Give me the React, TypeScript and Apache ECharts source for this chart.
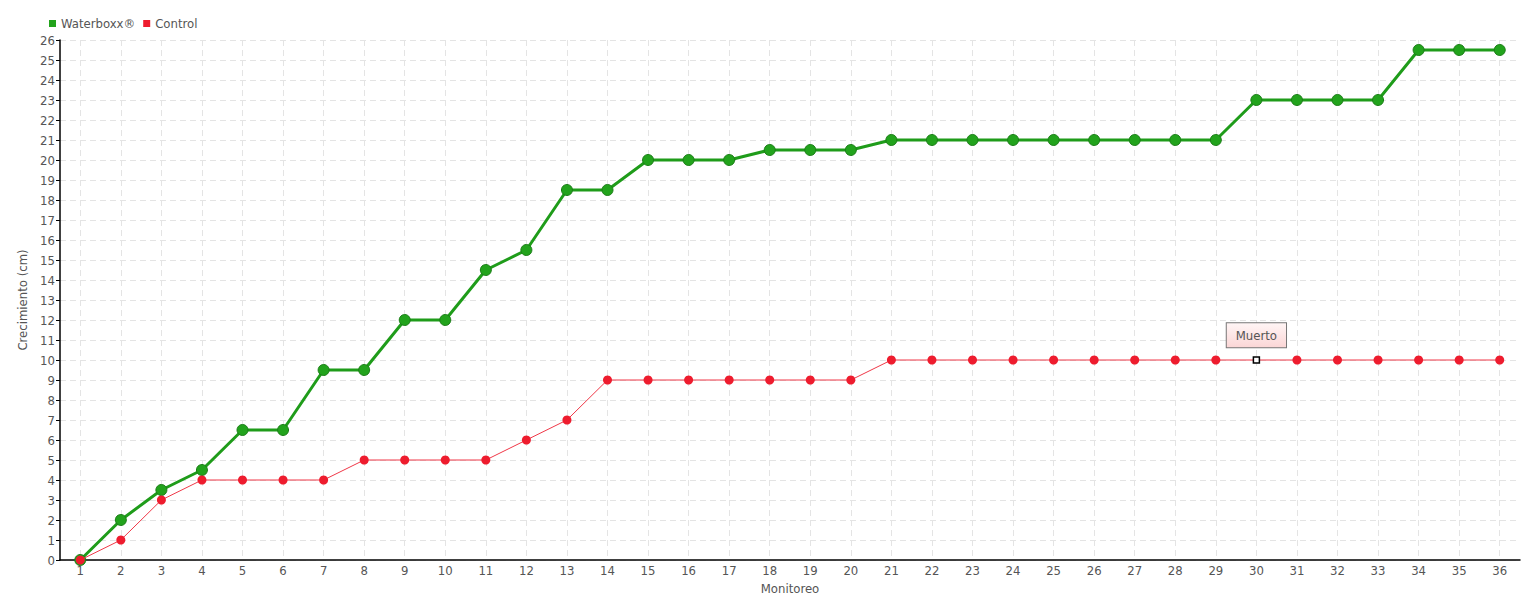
import React, { useEffect, useRef } from "react";
import * as echarts from "echarts";

const categories = Array.from({ length: 36 }, (_, i) => String(i + 1));
const waterboxx = [0, 2, 3.5, 4.5, 6.5, 6.5, 9.5, 9.5, 12, 12, 14.5, 15.5, 18.5, 18.5, 20, 20, 20, 20.5, 20.5, 20.5, 21, 21, 21, 21, 21, 21, 21, 21, 21, 23, 23, 23, 23, 25.5, 25.5, 25.5];
const control = [0, 1, 3, 4, 4, 4, 4, 5, 5, 5, 5, 6, 7, 9, 9, 9, 9, 9, 9, 9, 10, 10, 10, 10, 10, 10, 10, 10, 10, 10, 10, 10, 10, 10, 10, 10];
const annotationIndex = 29;
const annotationText = "Muerto";

const FONT = '"Liberation Sans Narrow", "DejaVu Sans Condensed", "DejaVu Sans", sans-serif';

export default function App() {
  const ref = useRef<HTMLDivElement>(null);
  useEffect(() => {
    document.body.style.margin = "0";
    const chart = echarts.init(ref.current!, null, { renderer: "svg" });
    const controlData = control.map((v, i) =>
      i === annotationIndex
        ? {
            value: v,
            symbol: "rect",
            symbolSize: 6,
            itemStyle: { color: "#fff", borderColor: "#000", borderWidth: 1.5 },
            label: {
              show: true,
              position: "top",
              distance: 9,
              formatter: annotationText,
              fontFamily: FONT,
              fontSize: 13,
              color: "#555",
              backgroundColor: {
                type: "linear", x: 0, y: 0, x2: 0, y2: 1,
                colorStops: [
                  { offset: 0, color: "#fff5f5" },
                  { offset: 1, color: "#fbd6d6" },
                ],
              },
              borderColor: "#777",
              borderWidth: 1,
              padding: [6, 9, 5, 9],
            },
          }
        : v
    );
    chart.setOption({
      animation: false,
      textStyle: { fontFamily: FONT },
      legend: {
        left: 44,
        top: 12,
        itemWidth: 7,
        itemHeight: 7,
        itemGap: 8,
        icon: "rect",
        textStyle: { fontFamily: FONT, fontSize: 13, color: "#555" },
        data: [
          { name: "Waterboxx®", itemStyle: { color: "#22a31c", borderWidth: 0 } },
          { name: "Control", itemStyle: { color: "#ee1c2e", borderWidth: 0 } },
        ],
      },
      grid: { left: 60, right: 20, top: 40, bottom: 40, containLabel: false },
      xAxis: {
        type: "category",
        data: categories,
        boundaryGap: true,
        name: "Monitoreo",
        nameLocation: "middle",
        nameGap: 20,
        nameTextStyle: { fontFamily: FONT, fontSize: 13, color: "#555" },
        axisLine: { lineStyle: { color: "#000", width: 1.5 } },
        axisTick: { alignWithLabel: true, length: 4, lineStyle: { color: "#000" } },
        axisLabel: { fontFamily: FONT, fontSize: 13, color: "#555", margin: 4, interval: 0 },
        splitLine: { show: true, alignWithLabel: true, lineStyle: { color: "#e4e4e4", type: [6, 4] } },
      },
      yAxis: {
        type: "value",
        min: 0,
        max: 26,
        interval: 1,
        name: "Crecimiento (cm)",
        nameLocation: "middle",
        nameGap: 18,
        nameTextStyle: { fontFamily: FONT, fontSize: 13, color: "#555" },
        axisLine: { show: true, lineStyle: { color: "#000", width: 1.5 } },
        axisTick: { show: true, length: 4, lineStyle: { color: "#000" } },
        axisLabel: { fontFamily: FONT, fontSize: 13, color: "#555", margin: 5 },
        splitLine: { show: true, lineStyle: { color: "#e4e4e4", type: [6, 4] } },
      },
      series: [
        {
          name: "Waterboxx®",
          type: "line",
          data: waterboxx,
          symbol: "circle",
          symbolSize: 11,
          lineStyle: { color: "#1f9c1a", width: 3 },
          itemStyle: { color: "#22a31c", borderColor: "#1b7d17", borderWidth: 1 },
          z: 2,
        },
        {
          name: "Control",
          type: "line",
          data: controlData,
          symbol: "circle",
          symbolSize: 9,
          lineStyle: { color: "#f03848", width: 1 },
          itemStyle: { color: "#ee1c2e" },
          z: 3,
        },
      ],
    });
    return () => chart.dispose();
  }, []);
  return <div ref={ref} style={{ width: 1540, height: 600 }} />;
}
